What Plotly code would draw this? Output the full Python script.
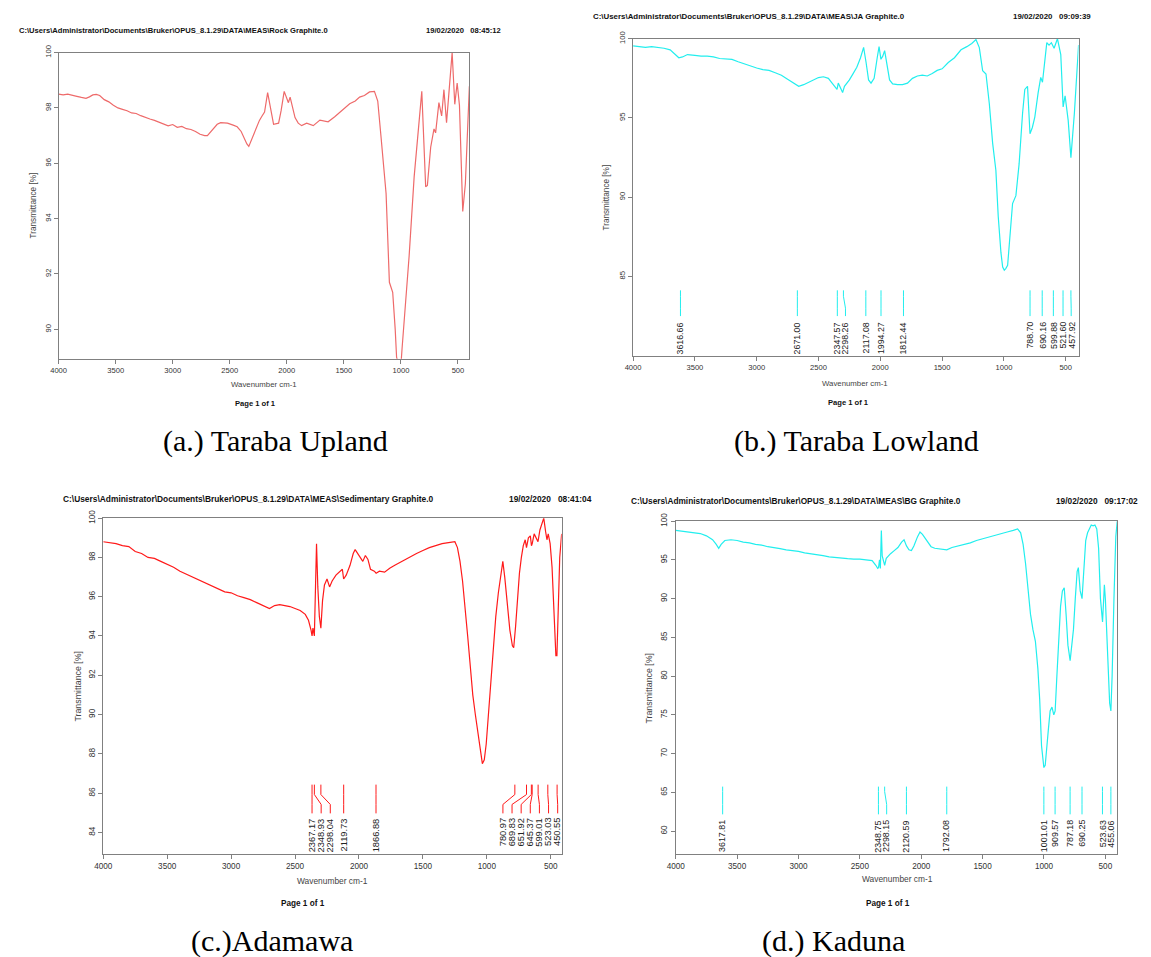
import plotly.graph_objects as go

W, H = 1151, 957

# ---------------- data ----------------
a_wn = [4000, 3960, 3920, 3880, 3840, 3800, 3760, 3730, 3700, 3670, 3640, 3600, 3560, 3520, 3480,
        3440, 3400, 3360, 3320, 3280, 3240, 3200, 3160, 3120, 3080, 3040, 3000, 2960, 2920, 2880,
        2840, 2800, 2760, 2720, 2696, 2650, 2610, 2580, 2520, 2470, 2435, 2400, 2377, 2350, 2333,
        2300, 2275, 2240, 2217, 2195, 2168, 2140, 2116, 2072, 2050, 2023, 2000, 1986, 1971, 1950,
        1928, 1900, 1870, 1826, 1768, 1710, 1638, 1580, 1507, 1449, 1400, 1362, 1320, 1275, 1232,
        1203, 1174, 1130, 1101, 1072, 1050, 1038, 1015, 1000, 990, 971, 928, 884, 855, 817,
        783, 768, 739, 710, 696, 667, 643, 623, 600, 575, 551, 528, 507, 487, 458, 435, 400]
a_t = [98.50, 98.47, 98.50, 98.45, 98.42, 98.38, 98.35, 98.40, 98.47, 98.49, 98.45, 98.30, 98.22, 98.10, 98.00,
       97.95, 97.90, 97.82, 97.80, 97.72, 97.65, 97.60, 97.55, 97.48, 97.42, 97.35, 97.40, 97.30, 97.33, 97.25,
       97.22, 97.15, 97.05, 97.00, 97.00, 97.20, 97.41, 97.47, 97.45, 97.38, 97.32, 97.15, 96.94, 96.70, 96.61,
       96.95, 97.24, 97.55, 97.71, 97.85, 98.55, 97.90, 97.41, 97.45, 97.90, 98.60, 98.35, 98.19, 98.39, 98.00,
       97.65, 97.45, 97.36, 97.45, 97.36, 97.56, 97.50, 97.68, 97.95, 98.15, 98.25, 98.39, 98.45, 98.58, 98.60,
       98.25, 96.94, 94.91, 91.70, 91.34, 90.00, 89.00, 88.60, 88.70, 89.30, 90.27, 92.65, 95.51, 96.94, 98.60,
       95.15, 95.20, 96.58, 97.24, 97.10, 98.19, 97.71, 98.66, 97.47, 98.80, 100.0, 98.13, 98.90, 98.10, 94.26, 95.27, 98.78]

b_wn = [4000, 3950, 3900, 3850, 3800, 3750, 3700, 3660, 3630, 3600, 3560, 3500, 3450, 3400, 3350,
        3300, 3250, 3200, 3150, 3100, 3050, 3000, 2950, 2900, 2850, 2800, 2750, 2700, 2660, 2620,
        2580, 2540, 2500, 2460, 2420, 2390, 2370, 2350, 2340, 2320, 2305, 2290, 2270, 2250, 2220,
        2190, 2160, 2135, 2115, 2095, 2075, 2050, 2025, 2010, 1995, 1980, 1965, 1945, 1925, 1900,
        1860, 1820, 1780, 1740, 1700, 1660, 1620, 1580, 1540, 1500, 1450, 1400, 1347, 1300, 1260,
        1226, 1199, 1172, 1145, 1118, 1091, 1065, 1046, 1024, 1010, 997, 985, 970, 949, 930,
        903, 877, 849, 831, 809, 789, 770, 750, 723, 702, 688, 669, 653, 635, 616,
        594, 567, 540, 521, 505, 480, 458, 430, 396]
b_t = [99.55, 99.50, 99.45, 99.50, 99.45, 99.40, 99.30, 99.00, 98.80, 98.85, 99.00, 98.95, 98.90, 98.90, 98.85,
       98.75, 98.72, 98.70, 98.55, 98.40, 98.30, 98.15, 98.05, 98.00, 97.85, 97.70, 97.45, 97.20, 97.00, 97.10,
       97.25, 97.40, 97.55, 97.60, 97.50, 97.20, 97.00, 96.80, 97.20, 96.90, 96.60, 97.00, 97.20, 97.40, 97.80,
       98.20, 98.80, 99.45, 98.50, 97.40, 97.20, 97.50, 98.80, 99.50, 98.70, 98.90, 99.25, 98.20, 97.40, 97.15,
       97.10, 97.10, 97.20, 97.50, 97.65, 97.70, 97.65, 97.80, 98.00, 98.10, 98.50, 98.80, 99.30, 99.50, 99.70,
       99.95, 99.44, 97.98, 97.77, 95.90, 93.40, 91.70, 88.80, 86.50, 85.60, 85.40, 85.50, 85.70, 88.00, 89.60,
       90.10, 92.10, 95.30, 96.80, 97.00, 94.00, 94.40, 95.06, 96.60, 97.56, 97.25, 98.80, 99.75, 99.60, 99.75,
       99.40, 100.0, 99.00, 95.70, 96.40, 94.85, 92.50, 95.30, 99.60]

c_wn = [4000, 3950, 3900, 3850, 3800, 3750, 3700, 3650, 3600, 3550, 3500, 3450, 3400, 3350, 3300,
        3250, 3200, 3150, 3100, 3050, 3000, 2950, 2900, 2850, 2800, 2750, 2700, 2660, 2620, 2580,
        2540, 2500, 2460, 2420, 2395, 2375, 2367, 2360, 2349, 2340, 2332, 2322, 2310, 2298, 2285,
        2270, 2250, 2230, 2210, 2180, 2150, 2130, 2120, 2100, 2070, 2045, 2030, 2010, 1990, 1970,
        1950, 1930, 1910, 1880, 1866, 1840, 1800, 1760, 1720, 1680, 1640, 1600, 1550, 1500, 1450,
        1400, 1350, 1300, 1250, 1230, 1210, 1190, 1170, 1150, 1130, 1110, 1090, 1075, 1060, 1045,
        1035, 1020, 1005, 990, 970, 950, 930, 910, 890, 875, 860, 840, 820, 800, 790,
        775, 760, 745, 730, 715, 700, 690, 675, 660, 651, 645, 630, 615, 600, 585,
        570, 555, 540, 530, 520, 505, 490, 475, 460, 452, 440, 430, 415]
c_t = [98.80, 98.75, 98.70, 98.60, 98.55, 98.30, 98.20, 98.00, 97.95, 97.80, 97.65, 97.50, 97.30, 97.15, 97.00,
       96.85, 96.70, 96.55, 96.40, 96.25, 96.20, 96.05, 95.95, 95.85, 95.70, 95.55, 95.40, 95.55, 95.60, 95.55,
       95.50, 95.40, 95.30, 95.10, 94.80, 94.30, 94.00, 94.40, 94.00, 96.50, 98.70, 96.50, 95.00, 94.40, 95.80,
       96.60, 96.90, 96.50, 96.80, 97.10, 97.30, 97.40, 96.90, 97.10, 97.60, 98.20, 98.40, 98.20, 98.00, 97.80,
       98.10, 97.90, 97.40, 97.30, 97.20, 97.30, 97.25, 97.45, 97.60, 97.75, 97.90, 98.05, 98.20, 98.35, 98.50,
       98.60, 98.70, 98.75, 98.80, 98.50, 97.80, 96.80, 95.50, 94.00, 92.50, 91.00, 90.00, 89.30, 88.50, 87.80,
       87.50, 87.70, 88.50, 89.80, 91.50, 93.50, 95.00, 96.20, 97.20, 97.80, 97.00, 95.50, 94.30, 93.50, 93.40,
       94.50, 96.00, 97.20, 98.00, 98.60, 98.90, 98.50, 99.00, 99.10, 98.60, 98.70, 99.20, 99.00, 98.80, 99.40,
       99.70, 100.0, 99.30, 98.90, 99.20, 98.70, 97.50, 95.00, 93.00, 93.00, 95.50, 98.00, 99.20]

d_wn = [4000, 3950, 3900, 3850, 3800, 3750, 3700, 3670, 3650, 3630, 3600, 3550, 3500, 3450, 3400,
        3350, 3300, 3250, 3200, 3150, 3100, 3050, 3000, 2950, 2900, 2850, 2800, 2750, 2700, 2650,
        2600, 2550, 2500, 2450, 2400, 2370, 2355, 2348, 2340, 2333, 2325, 2318, 2305, 2298, 2285,
        2270, 2250, 2220, 2190, 2160, 2140, 2120, 2100, 2080, 2060, 2030, 2010, 1990, 1970, 1950,
        1920, 1890, 1850, 1792, 1750, 1700, 1650, 1600, 1550, 1500, 1450, 1400, 1350, 1300, 1250,
        1215, 1190, 1170, 1150, 1130, 1110, 1090, 1070, 1050, 1035, 1020, 1010, 1001, 990, 980,
        965, 950, 935, 920, 909, 895, 880, 865, 850, 835, 820, 805, 787, 775, 760,
        745, 730, 720, 705, 690, 675, 660, 645, 630, 615, 600, 585, 570, 555, 540,
        530, 523, 515, 508, 500, 490, 475, 465, 455, 445, 430, 415, 403]
d_t = [98.80, 98.70, 98.60, 98.50, 98.40, 98.10, 97.60, 97.00, 96.50, 97.00, 97.50, 97.60, 97.50, 97.30, 97.20,
       97.00, 96.90, 96.70, 96.60, 96.45, 96.30, 96.20, 96.10, 95.90, 95.80, 95.70, 95.55, 95.40, 95.30, 95.20,
       95.15, 95.10, 95.10, 95.00, 94.90, 94.30, 93.90, 94.00, 95.00, 93.90, 98.80, 95.50, 94.50, 94.30, 95.20,
       95.50, 95.80, 96.20, 96.60, 97.30, 97.60, 96.80, 96.30, 96.20, 96.80, 98.00, 98.60, 98.30, 97.80, 97.30,
       96.70, 96.50, 96.40, 96.30, 96.60, 96.80, 97.00, 97.20, 97.50, 97.70, 97.90, 98.10, 98.35, 98.60, 98.80,
       99.00, 98.50, 97.00, 94.50, 91.00, 88.00, 86.00, 84.50, 81.00, 77.00, 71.00, 69.00, 68.20, 68.50, 70.00,
       73.00, 75.50, 76.00, 75.00, 75.50, 80.00, 85.00, 89.00, 91.00, 91.40, 88.00, 84.00, 82.00, 83.50, 86.00,
       90.00, 93.50, 94.00, 91.00, 90.00, 94.00, 97.50, 98.50, 99.00, 99.50, 99.40, 99.50, 99.00, 96.50, 90.00,
       87.50, 87.00, 89.50, 91.80, 90.00, 86.00, 80.00, 76.50, 75.50, 80.00, 90.00, 98.00, 100.0]

b_peaks = [3616.66, 2671.00, 2347.57, 2298.26, 2117.08, 1994.27, 1812.44, 788.70, 690.16, 599.88, 521.60, 457.92]
c_peaks = [2367.17, 2348.93, 2298.04, 2119.73, 1866.88, 780.97, 689.83, 651.92, 645.37, 599.01, 523.03, 450.55]
d_peaks = [3617.81, 2348.75, 2298.15, 2120.59, 1792.08, 1001.01, 909.57, 787.18, 690.25, 523.63, 455.06]

x_ticks = [4000, 3500, 3000, 2500, 2000, 1500, 1000, 500]
a_yticks = [90, 92, 94, 96, 98, 100]
b_yticks = [85, 90, 95, 100]
c_yticks = [84, 86, 88, 90, 92, 94, 96, 98, 100]
d_yticks = [60, 65, 70, 75, 80, 85, 90, 95, 100]

file_paths = [
    "C:\\Users\\Administrator\\Documents\\Bruker\\OPUS_8.1.29\\DATA\\MEAS\\Rock Graphite.0",
    "C:\\Users\\Administrator\\Documents\\Bruker\\OPUS_8.1.29\\DATA\\MEAS\\JA Graphite.0",
    "C:\\Users\\Administrator\\Documents\\Bruker\\OPUS_8.1.29\\DATA\\MEAS\\Sedimentary Graphite.0",
    "C:\\Users\\Administrator\\Documents\\Bruker\\OPUS_8.1.29\\DATA\\MEAS\\BG Graphite.0",
]
timestamps = ["19/02/2020   08:45:12", "19/02/2020   09:09:39", "19/02/2020   08:41:04", "19/02/2020   09:17:02"]
captions = ["(a.) Taraba Upland", "(b.) Taraba Lowland", "(c.)Adamawa", "(d.) Kaduna"]

# ---------------- layout (pixel geometry) ----------------
panels = [
    dict(wn=a_wn, t=a_t, peaks=None, yticks=a_yticks, color="#EE6A6A",
         box=(50, 464, 44, 353), xr=(4000, 400), yr=(88.94, 100), fs=7.6,
         head=(8, 22, 418), ytitle=(25,), xtitle=(257, 379), page=(248, 398),
         cap=(269, 436), hfs=7.6),
    dict(wn=b_wn, t=b_t, peaks=b_peaks, yticks=b_yticks, color="#22EEEE",
         box=(629, 1078, 30, 350), xr=(4000, 396), yr=(80, 100), fs=7.6,
         head=(587, 8, 1010), ytitle=(602,), xtitle=(853, 378), page=(846, 397),
         cap=(854, 436), hfs=7.9, pk=(284, 290, 302, 310, 314), sep=8.2, pfs=8.8),
    dict(wn=c_wn, t=c_t, peaks=c_peaks, yticks=c_yticks, color="#FF1A1A",
         box=(95, 557, 514, 853), xr=(4000, 415), yr=(82.9, 100), fs=8.2,
         head=(52, 495, 502), ytitle=(70,), xtitle=(326, 880), page=(296, 903),
         cap=(265, 941), hfs=8.4, pk=(783, 793, 803, 812, 815), sep=9.2, pfs=9.3),
    dict(wn=d_wn, t=d_t, peaks=d_peaks, yticks=d_yticks, color="#22EEEE",
         box=(672, 1117, 517, 853), xr=(4000, 403), yr=(57.05, 100), fs=8.2,
         head=(625, 497, 1053), ytitle=(645,), xtitle=(895, 878), page=(886, 903),
         cap=(831, 941), hfs=8.3, pk=(785, 790, 803, 813, 817), sep=8.3, pfs=8.9),
]

FONT = "Liberation Sans, Arial, sans-serif"
AXC = "#808080"


def px_x(px):
    return px / W


def px_y(py):
    return 1 - py / H


def spread_labels(peaks, x0, scale, sep, edge):
    p = [(x0 - w) * scale for w in peaks]
    order = sorted(range(len(p)), key=lambda i: p[i])
    q = [p[i] for i in order]
    for k in range(1, len(q)):
        q[k] = max(q[k], q[k - 1] + sep)
    q[-1] = min(q[-1], edge)
    for k in range(len(q) - 2, -1, -1):
        q[k] = min(q[k], q[k + 1] - sep)
    res = [0.0] * len(p)
    for k, i in enumerate(order):
        res[i] = x0 - q[k] / scale
    return res


def note(text, x, y, size, color, anchor="center", family=FONT, **kw):
    return dict(text=text, x=px_x(x), y=px_y(y), xref="paper", yref="paper",
                xanchor=anchor, yanchor="middle", showarrow=False,
                font=dict(family=family, size=size, color=color), **kw)


fig = go.Figure()
annotations = []
shapes = []

for i, P in enumerate(panels):
    n = "" if i == 0 else str(i + 1)
    xa, ya = "x" + n, "y" + n
    L, R, T, B = P["box"]
    fig.add_trace(go.Scatter(x=P["wn"], y=P["t"], mode="lines", xaxis=xa, yaxis=ya,
                             line=dict(color=P["color"], width=1.2), showlegend=False,
                             hoverinfo="skip"))
    common = dict(showline=True, linecolor=AXC, linewidth=1, mirror=True, ticks="outside",
                  ticklen=4, tickcolor=AXC, showgrid=False, zeroline=False,
                  tickfont=dict(family=FONT, size=P["fs"], color="#333333"))
    fig.layout["xaxis" + n] = dict(domain=[px_x(L), px_x(R)], range=list(P["xr"]), anchor=ya,
                                   tickvals=x_ticks, **common)
    fig.layout["yaxis" + n] = dict(domain=[px_y(B), px_y(T)], range=list(P["yr"]), anchor=xa,
                                   tickvals=P["yticks"], tickangle=-90, **common)

    hx, hy, dx = P["head"]
    annotations.append(note("<b>" + file_paths[i] + "</b>", hx, hy, P["hfs"], "#111", anchor="left"))
    annotations.append(note("<b>" + timestamps[i].replace("   ", "\u00a0\u00a0\u00a0") + "</b>",
                            dx, hy, P["hfs"], "#111", anchor="left"))
    annotations.append(note("Transmittance [%]", P["ytitle"][0], (T + B) / 2, P["fs"] + 0.6,
                            "#444", textangle=-90))
    annotations.append(note("Wavenumber cm-1", P["xtitle"][0], P["xtitle"][1], P["fs"] + 0.2, "#444"))
    annotations.append(note("<b>Page 1 of 1</b>", P["page"][0], P["page"][1], P["fs"], "#111"))
    annotations.append(note(captions[i], P["cap"][0], P["cap"][1], 30, "#000",
                            family="Liberation Serif, Times New Roman, serif"))

    if P["peaks"]:
        x0, x1 = P["xr"]
        scale = (R - L) / (x0 - x1)
        lab = spread_labels(P["peaks"], x0, scale, P["sep"], R - L - 4)
        y0, y1, y2, y3, yl = P["pk"]
        for w, lw in zip(P["peaks"], lab):
            path = "M {a},{p0} L {a},{p1} L {b},{p2} L {b},{p3}".format(
                a=w, b=lw, p0=px_y(y0), p1=px_y(y1), p2=px_y(y2), p3=px_y(y3))
            shapes.append(dict(type="path", path=path, xref=xa, yref="paper",
                               line=dict(color=P["color"], width=1)))
            annotations.append(dict(text="%.2f" % w, x=lw, y=px_y(yl), xref=xa, yref="paper",
                                    xanchor="center", yanchor="top", textangle=-90,
                                    showarrow=False,
                                    font=dict(family=FONT, size=P["pfs"], color="#222")))

fig.update_layout(width=W, height=H, margin=dict(l=0, r=0, t=0, b=0),
                  paper_bgcolor="white", plot_bgcolor="white",
                  annotations=annotations, shapes=shapes, showlegend=False)

fig.write_html("out.html", config={"displayModeBar": False},
               post_script="document.body.style.margin='0';")
